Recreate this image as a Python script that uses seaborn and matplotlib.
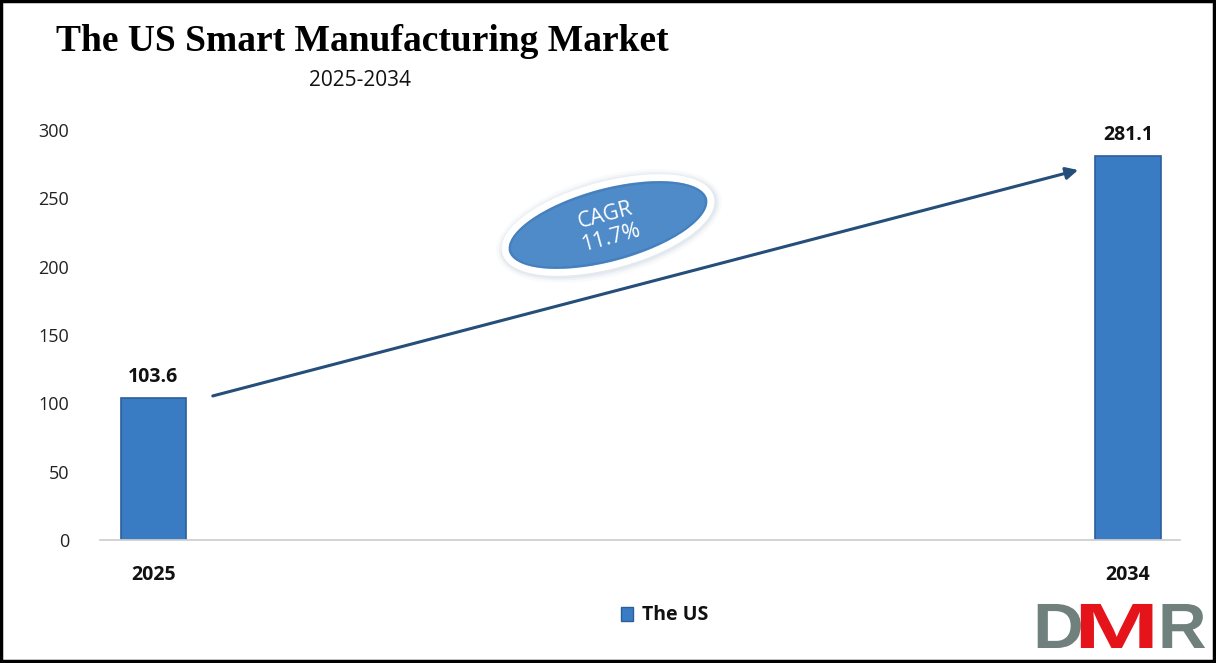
import matplotlib
matplotlib.use("Agg")
import matplotlib.pyplot as plt
import seaborn as sns
import pandas as pd
from matplotlib.patches import Ellipse, Rectangle, PathPatch
from matplotlib.textpath import TextPath
from matplotlib.font_manager import FontProperties
from matplotlib.transforms import Affine2D

# chart data
years = ["2025", "2034"]
market_size = [103.6, 281.1]
series_name = "The US"
cagr_text = "CAGR\n11.7%"
y_ticks = [0, 50, 100, 150, 200, 250, 300]

df = pd.DataFrame({"year": years, "value": market_size, "region": series_name})

sns.set_theme(style="white")
plt.rcParams["font.family"] = ["Open Sans", "DejaVu Sans"]

fig = plt.figure(figsize=(12.16, 6.63), dpi=100)
ax = fig.add_axes([0.082, 0.1855, 0.888, 0.6185])

bar_color = "#3a7cc4"
sns.barplot(data=df, x="year", y="value", hue="region", palette=[bar_color],
            saturation=1, width=0.067, ax=ax, legend=False,
            edgecolor="#2b5f99", linewidth=1.2)

ax.set_xlim(-0.055, 1.053)
ax.set_ylim(0, 300)
ax.set_yticks(y_ticks)
ax.set_yticklabels([str(t) for t in y_ticks], fontsize=13, color="#222222")
ax.tick_params(axis="y", length=0, pad=22)
ax.tick_params(axis="x", length=0, pad=18)
ax.set_xticks(range(len(years)))
ax.set_xticklabels(years, fontsize=14, fontweight="bold", color="#111111")
ax.set_xlabel("")
ax.set_ylabel("")
for s in ["top", "right", "left"]:
    ax.spines[s].set_visible(False)
ax.spines["bottom"].set_color("#d0d0d0")
ax.spines["bottom"].set_linewidth(1.3)

# value labels
for i, v in enumerate(market_size):
    ax.text(i, v + 8, f"{v}", ha="center", va="bottom", fontsize=14,
            fontweight="bold", color="#111111")

# growth arrow between the bars
x0, x1 = 0.061, 0.949
ax.annotate("", xy=(x1, market_size[1] - 10.4), xytext=(x0, market_size[0] + 1.8),
            arrowprops=dict(arrowstyle="-|>", color="#254e7a", lw=2.2,
                            mutation_scale=18, shrinkA=0, shrinkB=0))

# overlay in pixel coordinates for decorations
ov = fig.add_axes([0, 0, 1, 1], facecolor="none")
ov.set_xlim(0, 1216)
ov.set_ylim(663, 0)
ov.axis("off")

# CAGR ellipse
for k, a in [(18, 0.05), (13, 0.08), (9, 0.12)]:
    ov.add_patch(Ellipse((609, 226), 214 + k, 82 + k, angle=-15,
                         facecolor="#8fa8c2", edgecolor="none", alpha=a))
ov.add_patch(Ellipse((608, 225), 212, 80, angle=-15, facecolor="#4f8bc9",
                     edgecolor="white", linewidth=5))
ov.add_patch(Ellipse((608, 225), 202, 70, angle=-15, facecolor="none",
                     edgecolor="#3f78b4", linewidth=1.5, alpha=0.6))
ov.text(608, 227, cagr_text, ha="center", va="center", rotation=15,
        fontsize=15.5, color="white", linespacing=1.15)

# titles
fig.text(0.298, 0.937, "The US Smart Manufacturing Market", ha="center", va="center",
         fontsize=27, fontweight="bold", color="black",
         family=["Liberation Serif", "DejaVu Serif"])
fig.text(0.296, 0.878, "2025-2034", ha="center", va="center", fontsize=15,
         color="#111111")

# legend
ov.add_patch(Rectangle((621, 607), 12, 14, facecolor=bar_color, edgecolor="#2b5f99"))
ov.text(642, 615, series_name, ha="left", va="center", fontsize=14,
        fontweight="bold", color="#111111")

# DMR logo (glyph outlines, stretched like the original mark)
logo_prop = FontProperties(family="Liberation Sans", weight="bold")
for letter, x, sx, col in [("D", 1033, 1.1, "#6f807d"),
                           ("R", 1158, 1.05, "#6f807d"),
                           ("M", 1074, 1.6, "#e5141b")]:
    tp = TextPath((0, 0), letter, size=64, prop=logo_prop)
    path = Affine2D().scale(sx, -1).translate(x, 648).transform_path(tp)
    ov.add_patch(PathPatch(path, facecolor=col, edgecolor="none"))

# outer border
ov.add_patch(Rectangle((1, 1), 1213, 660, facecolor="none", edgecolor="black",
                       linewidth=2.5))

fig.savefig("out.png", dpi=100)
